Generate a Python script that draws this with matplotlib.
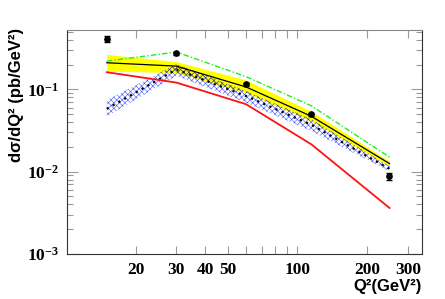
import matplotlib
matplotlib.use("Agg")
from matplotlib import pyplot as plt
from matplotlib.ticker import FixedLocator, NullFormatter, FixedFormatter

# data
q2 = [15, 30, 60, 115, 250]

data_y = [0.41, 0.275, 0.115, 0.0495, 0.0088]
data_err = [0.035, 0.012, 0.005, 0.002, 0.0008]

central = [0.211, 0.192, 0.107, 0.047, 0.0125]
band_hi = [0.267, 0.218, 0.13, 0.054, 0.0134]
band_lo = [0.167, 0.16, 0.091, 0.041, 0.0116]

green = [0.221, 0.285, 0.143, 0.063, 0.0150]
red = [0.162, 0.121, 0.066, 0.0214, 0.0036]

dotted = [0.058, 0.175, 0.083, 0.037, 0.0108]
blue_hi = [0.074, 0.202, 0.095, 0.043, 0.0116]
blue_lo = [0.047, 0.146, 0.069, 0.031, 0.0101]

xticks = [20, 30, 40, 50, 100, 200, 300]

plt.rcParams['hatch.linewidth'] = 0.4
plt.rcParams['mathtext.fontset'] = 'custom'
plt.rcParams['mathtext.rm'] = 'Liberation Serif:bold'
plt.rcParams['mathtext.default'] = 'rm'

fig = plt.figure(figsize=(4.45, 2.99), dpi=100)
ax = fig.add_axes([0.1506, 0.1515, 0.7974, 0.7485])

yellow = ax.fill_between(q2, band_lo, band_hi, color='#ffff00', lw=0, zorder=1)
ax.fill_between(q2, blue_lo, blue_hi, facecolor='none', edgecolor='#4455ff',
                hatch='xxxxxx', lw=0, zorder=2)
# blue hatch over yellow looks dark grey in the original
dark = ax.fill_between(q2, blue_lo, blue_hi, facecolor='none', edgecolor='#505050',
                       hatch='xxxxxx', lw=0, zorder=3)
dark.set_clip_path(yellow.get_paths()[0], ax.transData)

ax.plot(q2, central, color='black', lw=0.9, zorder=4)
ax.plot(q2, dotted, color='black', lw=1.6, ls=(0, (1, 2)), zorder=4)
ax.plot(q2, green, color='#22ee22', lw=1.0, ls=(0, (4, 1.5, 1, 1.5)), zorder=4)
ax.plot(q2, red, color='#ff1111', lw=1.3, zorder=4)
ax.errorbar(q2, data_y, yerr=data_err, fmt='o', color='black', ms=3.8,
            capsize=2.5, elinewidth=1.2, zorder=5)

ax.set_xscale('log')
ax.set_yscale('log')
ax.set_xlim(10.1, 345)
ax.set_ylim(1e-3, 0.53)

ax.xaxis.set_major_locator(FixedLocator(xticks))
ax.xaxis.set_major_formatter(FixedFormatter([str(t) for t in xticks]))
ax.xaxis.set_minor_locator(FixedLocator([60, 70, 80, 90]))
ax.xaxis.set_minor_formatter(NullFormatter())
ax.yaxis.set_major_locator(FixedLocator([1e-3, 1e-2, 1e-1]))
ax.yaxis.set_major_formatter(FixedFormatter(['10$^{-3}$', '10$^{-2}$', '10$^{-1}$']))
for lab in ax.get_xticklabels() + ax.get_yticklabels():
    lab.set_family('Liberation Serif')
    lab.set_weight('bold')
    lab.set_size(12.5)

ax.tick_params(which='both', direction='in', top=True, right=True, color='#999999', width=0.8)
ax.tick_params(axis='y', which='major', length=8, pad=6)
ax.tick_params(axis='y', which='minor', length=4)
ax.tick_params(axis='x', which='major', length=6, pad=6)
ax.tick_params(axis='x', which='minor', length=6)

for s in ['left', 'bottom', 'right']:
    ax.spines[s].set_color('#333333')
ax.spines['top'].set_color('#888888')

fig.text(17 / 445, 1 - 28 / 299, 'dσ/dQ² (pb/GeV²)', rotation=90, ha='center', va='top',
         fontsize=12, fontweight='bold', family='Liberation Sans')
fig.text(422 / 445, 1 - 287 / 299, 'Q²(GeV²)', ha='right', va='center',
         fontsize=12, fontweight='bold', family='Liberation Sans')

fig.savefig('out.png', dpi=100)
